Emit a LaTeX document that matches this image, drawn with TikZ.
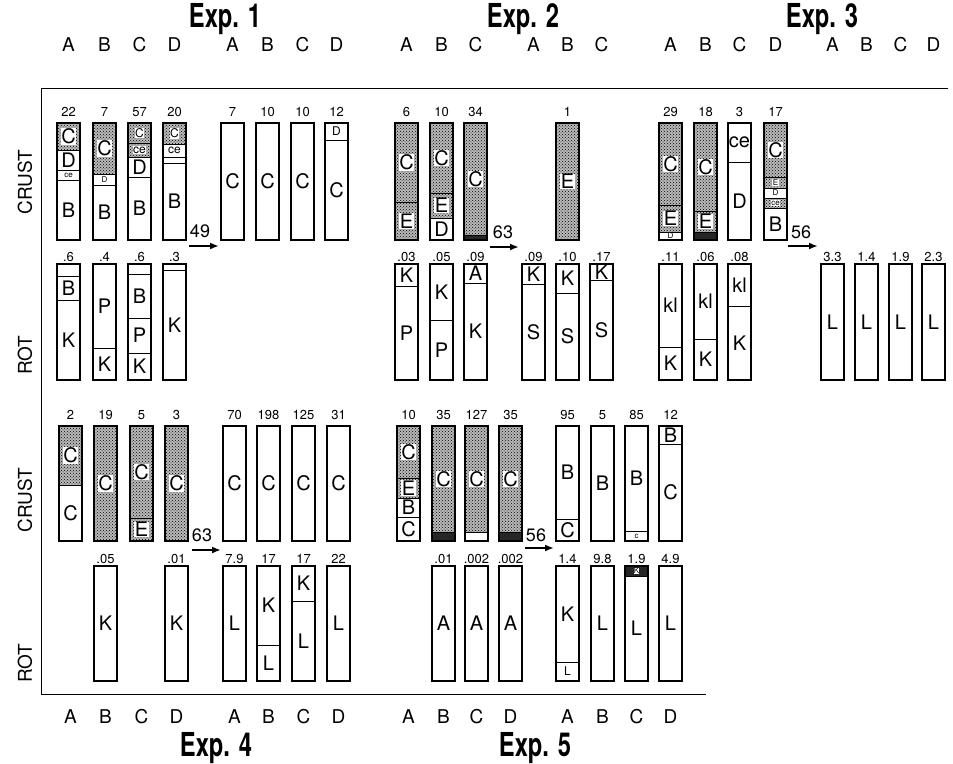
\documentclass[tikz,border=0pt]{standalone}
\usepackage{fontspec}
\setmainfont{TeX Gyre Heros}
\newfontfamily\expfont[FakeStretch=0.72]{TeX Gyre Heros}
\usepackage{tikz}
\usetikzlibrary{arrows.meta, patterns}

\newcommand{\tinylbl}{\fontsize{8}{8}\selectfont}
\newcommand{\smalllbl}{\fontsize{12}{12}\selectfont}

% one layer of a column: [style] x, top, bottom, text
\newcommand{\seg}[5][blank]{%
  \path[#1] (#2,#3) rectangle (#2+23,#4);
  \node[lbl, #1lbl] (s#2-#3) at (#2+11.5,{(#3+#4)/2}) {#5};
}
% column frame and its number: [gap] x, top, bottom, number
\newcommand{\col}[5][11]{%
  \draw[outline] (#2,#3) rectangle (#2+23,#4);
  \node[val] (v#2-#3) at (#2+11.5,#3-#1) {#5};
}

\begin{document}
\begin{tikzpicture}[x=1pt, y=-1pt,
    blank/.style={draw, line width=0.7pt},
    dots/.style={draw, line width=0.7pt, preaction={fill=gray!55}, pattern=crosshatch dots, pattern color=black},
    dark/.style={draw, line width=0.7pt, fill=black!85},
    outline/.style={draw, line width=1.1pt},
    lbl/.style={font=\fontsize{20}{20}\selectfont, inner sep=0pt},
    blanklbl/.style={},
    dotslbl/.style={fill=white, inner sep=0.6pt},
    darklbl/.style={fill=white, inner sep=0.3pt},
    val/.style={font=\fontsize{13}{13}\selectfont, inner sep=0pt},
    colname/.style={font=\fontsize{19}{19}\selectfont, inner sep=0pt},
    exptitle/.style={font=\expfont\bfseries\fontsize{33}{33}\selectfont, inner sep=0pt},
    side/.style={font=\fontsize{19}{19}\selectfont, rotate=90},
    arr/.style={line width=2pt, -{Latex[length=9pt, width=7pt]}},
    flow/.style={font=\fontsize{18}{18}\selectfont, inner sep=0pt}
]
\useasboundingbox (0,0) rectangle (953,763);

% titles and column letters
\node[exptitle] (exp1) at (225,19) {Exp. 1};
\node[exptitle] (exp2) at (523,19) {Exp. 2};
\node[exptitle] (exp3) at (822,19) {Exp. 3};
\node[exptitle] (exp4) at (216,748) {Exp. 4};
\node[exptitle] (exp5) at (535,748) {Exp. 5};
\foreach \x/\t [count=\i] in {68.5/A,104.5/B,139.5/C,174.5/D,232.5/A,267.5/B,302.5/C,336.5/D,
    406.5/A,441.5/B,475.5/C,533.5/A,567.5/B,601.5/C,
    670.5/A,705.5/B,739.5/C,775.5/D,832.5/A,866.5/B,900.5/C,933.5/D}
  \node[colname] (top\i) at (\x,45) {\t};
\foreach \x/\t [count=\i] in {70.5/A,105.5/B,141.5/C,176.5/D,234.5/A,268.5/B,303.5/C,338.5/D,
    408.5/A,443.5/B,476.5/C,510.5/D,567.5/A,602.5/B,636.5/C,670.5/D}
  \node[colname] (bot\i) at (\x,717) {\t};

% frame and side labels
\coordinate (tl) at (41,88);
\coordinate (tr) at (948,88);
\coordinate (bl) at (41,694);
\coordinate (br) at (706,694);
\draw[line width=1pt] (tr) -- (tl) -- (bl) -- (br);
\node[side] (crust1) at (25,182) {CRUST};
\node[side] (rot1) at (25,355) {ROT};
\node[side] (crust2) at (25,500) {CRUST};
\node[side] (rot2) at (25,663) {ROT};

% Exp. 1 crust
\seg[dots]{57}{123}{150}{C}
\seg{57}{150}{170}{D}
\seg{57}{170}{180}{\tinylbl ce}
\seg{57}{180}{240}{B}
\col{57}{123}{240}{22}
\seg[dots]{93}{123}{174}{C}
\seg{93}{174}{185}{\tinylbl D}
\seg{93}{185}{240}{B}
\col{93}{123}{240}{7}
\seg[dots]{128}{123}{143}{\smalllbl C}
\seg[dots]{128}{143}{157}{\smalllbl ce}
\seg{128}{157}{177}{D}
\seg{128}{177}{240}{B}
\col{128}{123}{240}{57}
\seg[dots]{163}{123}{144}{\smalllbl C}
\seg{163}{144}{157}{\smalllbl ce}
\seg{163}{157}{163}{}
\seg{163}{163}{240}{B}
\col{163}{123}{240}{20}
\seg{221}{123}{240}{C}
\col{221}{123}{240}{7}
\seg{256}{123}{240}{C}
\col{256}{123}{240}{10}
\seg{291}{123}{240}{C}
\col{291}{123}{240}{10}
\seg{325}{123}{140}{\smalllbl D}
\seg{325}{140}{240}{C}
\col{325}{123}{240}{12}
% Exp. 1 rot
\seg{57}{264}{276}{}
\seg{57}{276}{300}{B}
\seg{57}{300}{380}{K}
\col[7]{57}{264}{380}{.6}
\seg{93}{264}{348}{P}
\seg{93}{348}{380}{K}
\col[7]{93}{264}{380}{.4}
\seg{128}{264}{274}{}
\seg{128}{274}{318}{B}
\seg{128}{318}{353}{P}
\seg{128}{353}{380}{K}
\col[7]{128}{264}{380}{.6}
\seg{163}{264}{270}{}
\seg{163}{270}{380}{K}
\col[7]{163}{264}{380}{.3}

% Exp. 2 crust
\seg[dots]{395}{123}{202}{C}
\seg[dots]{395}{202}{240}{E}
\col{395}{123}{240}{6}
\seg[dots]{430}{123}{193}{C}
\seg[dots]{430}{193}{218}{E}
\seg{430}{218}{240}{D}
\col{430}{123}{240}{10}
\seg[dots]{464}{123}{235}{C}
\path[dark] (464,235) rectangle (487,240);
\col{464}{123}{240}{34}
\seg[dots]{556}{123}{240}{E}
\col{556}{123}{240}{1}
% Exp. 2 rot
\seg{395}{264}{286}{K}
\seg{395}{286}{380}{P}
\col[7]{395}{264}{380}{.03}
\seg{430}{264}{320}{K}
\seg{430}{320}{380}{P}
\col[7]{430}{264}{380}{.05}
\seg{464}{264}{283}{A}
\seg{464}{283}{380}{K}
\col[7]{464}{264}{380}{.09}
\seg{522}{264}{284}{K}
\seg{522}{284}{380}{S}
\col[7]{522}{264}{380}{.09}
\seg{556}{264}{293}{K}
\seg{556}{293}{380}{S}
\col[7]{556}{264}{380}{.10}
\seg{590}{264}{280}{K}
\seg{590}{280}{380}{S}
\col[7]{590}{264}{380}{.17}

% Exp. 3 crust
\seg[dots]{659}{123}{205}{C}
\seg[dots]{659}{205}{232}{E}
\seg{659}{232}{240}{\tinylbl D}
\col{659}{123}{240}{29}
\seg[dots]{694}{123}{211}{C}
\seg[dots]{694}{211}{232}{E}
\path[dark] (694,232) rectangle (717,240);
\col{694}{123}{240}{18}
\seg{728}{123}{162}{ce}
\seg{728}{162}{240}{D}
\col{728}{123}{240}{3}
\seg[dots]{764}{123}{177}{C}
\seg[dots]{764}{177}{188}{\tinylbl E}
\seg{764}{188}{198}{\tinylbl D}
\seg[dots]{764}{198}{208}{\tinylbl ce}
\seg{764}{208}{240}{B}
\col{764}{123}{240}{17}
% Exp. 3 rot
\seg{659}{264}{347}{kl}
\seg{659}{347}{380}{K}
\col[7]{659}{264}{380}{.11}
\seg{694}{264}{339}{kl}
\seg{694}{339}{380}{K}
\col[7]{694}{264}{380}{.06}
\seg{728}{264}{306}{kl}
\seg{728}{306}{380}{K}
\col[7]{728}{264}{380}{.08}
\seg{821}{264}{380}{L}
\col[7]{821}{264}{380}{3.3}
\seg{855}{264}{380}{L}
\col[7]{855}{264}{380}{1.4}
\seg{889}{264}{380}{L}
\col[7]{889}{264}{380}{1.9}
\seg{922}{264}{380}{L}
\col[7]{922}{264}{380}{2.3}

% Exp. 4 crust
\seg[dots]{59}{426}{485}{C}
\seg{59}{485}{541}{C}
\col{59}{426}{541}{2}
\seg[dots]{94}{426}{541}{C}
\col{94}{426}{541}{19}
\seg[dots]{130}{426}{518}{C}
\seg[dots]{130}{518}{541}{E}
\col{130}{426}{541}{5}
\seg[dots]{165}{426}{541}{C}
\col{165}{426}{541}{3}
\seg{223}{426}{541}{C}
\col{223}{426}{541}{70}
\seg{257}{426}{541}{C}
\col{257}{426}{541}{198}
\seg{292}{426}{541}{C}
\col{292}{426}{541}{125}
\seg{327}{426}{541}{C}
\col{327}{426}{541}{31}
% Exp. 4 rot
\seg{94}{566}{681}{K}
\col[7]{94}{566}{681}{.05}
\seg{165}{566}{681}{K}
\col[7]{165}{566}{681}{.01}
\seg{223}{566}{681}{L}
\col[7]{223}{566}{681}{7.9}
\seg{257}{566}{645}{K}
\seg{257}{645}{681}{L}
\col[7]{257}{566}{681}{17}
\seg{292}{566}{601}{K}
\seg{292}{601}{681}{L}
\col[7]{292}{566}{681}{17}
\seg{327}{566}{681}{L}
\col[7]{327}{566}{681}{22}

% Exp. 5 crust
\seg[dots]{397}{426}{478}{C}
\seg[dots]{397}{478}{498}{E}
\seg{397}{498}{517}{B}
\seg{397}{517}{541}{C}
\col{397}{426}{541}{10}
\seg[dots]{432}{426}{532}{C}
\path[dark] (432,532) rectangle (455,541);
\col{432}{426}{541}{35}
\seg[dots]{465}{426}{532}{C}
\seg{465}{532}{541}{}
\col{465}{426}{541}{127}
\seg[dots]{499}{426}{532}{C}
\path[dark] (499,532) rectangle (522,541);
\col{499}{426}{541}{35}
\seg{556}{426}{519}{B}
\seg{556}{519}{541}{C}
\col{556}{426}{541}{95}
\seg{591}{426}{541}{B}
\col{591}{426}{541}{5}
\seg{625}{426}{531}{B}
\seg{625}{531}{541}{\tinylbl c}
\col{625}{426}{541}{85}
\seg{659}{426}{444}{B}
\seg{659}{444}{541}{C}
\col{659}{426}{541}{12}
% Exp. 5 rot
\seg{432}{566}{681}{A}
\col[7]{432}{566}{681}{.01}
\seg{465}{566}{681}{A}
\col[7]{465}{566}{681}{.002}
\seg{499}{566}{681}{A}
\col[7]{499}{566}{681}{.002}
\seg{556}{566}{662}{K}
\seg{556}{662}{681}{\smalllbl L}
\col[7]{556}{566}{681}{1.4}
\seg{591}{566}{681}{L}
\col[7]{591}{566}{681}{9.8}
\seg[dark]{625}{566}{576}{\tinylbl K}
\seg{625}{576}{681}{L}
\col[7]{625}{566}{681}{1.9}
\seg{659}{566}{681}{L}
\col[7]{659}{566}{681}{4.9}

% transfer arrows
\coordinate (a1) at (189,246);
\coordinate (b1) at (219,246);
\draw[arr] (a1) -- (b1);
\node[flow] (f1) at (200,231) {49};
\coordinate (a2) at (490,247);
\coordinate (b2) at (519,247);
\draw[arr] (a2) -- (b2);
\node[flow] (f2) at (503,232) {63};
\coordinate (a3) at (788,246);
\coordinate (b3) at (818,246);
\draw[arr] (a3) -- (b3);
\node[flow] (f3) at (801,232) {56};
\coordinate (a4) at (192,550);
\coordinate (b4) at (221,550);
\draw[arr] (a4) -- (b4);
\node[flow] (f4) at (202,535) {63};
\coordinate (a5) at (525,548);
\coordinate (b5) at (554,548);
\draw[arr] (a5) -- (b5);
\node[flow] (f5) at (536,535) {56};

\end{tikzpicture}
\end{document}
